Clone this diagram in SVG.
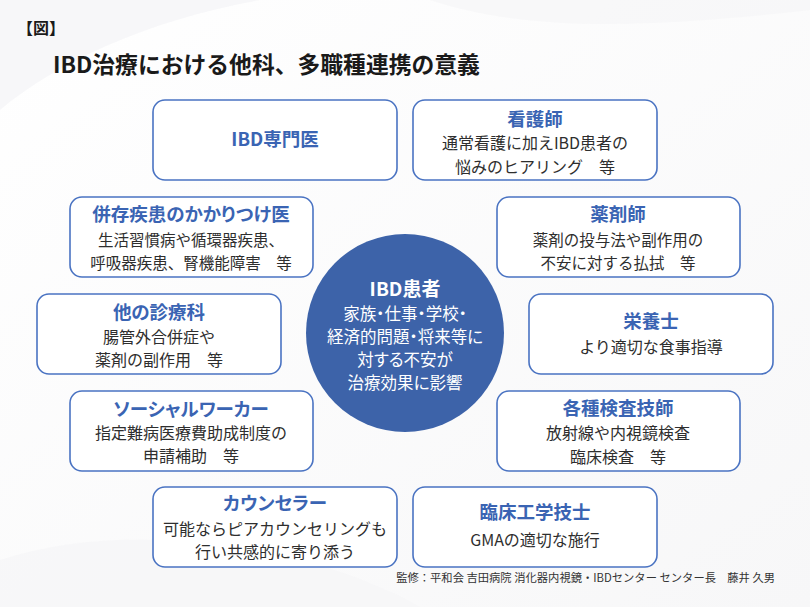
<svg xmlns="http://www.w3.org/2000/svg" width="810" height="607" viewBox="0 0 810 607">
<defs>
<style>
text{font-family:"Noto Sans CJK JP","Noto Sans",sans-serif;text-anchor:middle}
.box{fill:#ffffff;stroke:#4a73c2;stroke-width:1.6}
.ttl{font-size:18.5px;font-weight:bold;fill:#3a64b3;font-feature-settings:"palt"}
.body{font-size:16px;fill:#2e2e2e}
.tight{font-size:15.5px}
.ctr{fill:#ffffff;font-feature-settings:"palt"}
</style>
<linearGradient id="bg" x1="0" y1="0" x2="1" y2="1">
<stop offset="0" stop-color="#ffffff"/>
<stop offset="1" stop-color="#f7f7f8"/>
</linearGradient>
</defs>
<rect width="810" height="607" fill="url(#bg)"/>
<path d="M0,110 C60,60 150,20 260,0 L0,0 Z" fill="#f4f4f6" opacity="0.7"/>
<path d="M430,0 C520,30 640,30 810,10 L810,0 Z" fill="#f5f5f7" opacity="0.6"/>
<path d="M0,560 C120,520 300,540 420,607 L0,607 Z" fill="#f5f5f7" opacity="0.6"/>

<text x="17" y="34" style="font-size:16px;font-weight:bold;fill:#1a1a1a;text-anchor:start">【図】</text>
<text x="53" y="73" style="font-size:22.8px;font-weight:bold;fill:#1a1a1a;text-anchor:start">IBD治療における他科、多職種連携の意義</text>

<g id="connectors"></g>

<g id="patient">
<circle cx="405" cy="333" r="99" fill="#3d63a9"/>
<text x="405" y="296" class="ctr" style="font-size:19px;font-weight:bold">IBD患者</text>
<text x="405" y="320" class="ctr" style="font-size:16.5px">家族・仕事・学校・</text>
<text x="405" y="343" class="ctr" style="font-size:16.5px">経済的問題・将来等に</text>
<text x="405" y="366" class="ctr" style="font-size:16.5px">対する不安が</text>
<text x="405" y="389" class="ctr" style="font-size:16.5px">治療効果に影響</text>
</g>

<g id="ibd-specialist">
<rect class="box" x="153" y="100" width="244" height="80" rx="12"/>
<text class="ttl" x="275" y="146">IBD専門医</text>
</g>

<g id="nurse">
<rect class="box" x="413" y="100" width="244" height="80" rx="12"/>
<text class="ttl" x="535" y="126">看護師</text>
<text class="body" x="535" y="149">通常看護に加えIBD患者の</text>
<text class="body" x="535" y="173">悩みのヒアリング　等</text>
</g>

<g id="comorbidity-doctor">
<rect class="box" x="70" y="197" width="243" height="80" rx="12"/>
<text class="ttl" x="191" y="221">併存疾患のかかりつけ医</text>
<text class="body tight" x="191" y="246">生活習慣病や循環器疾患、</text>
<text class="body tight" x="191" y="269">呼吸器疾患、腎機能障害　等</text>
</g>

<g id="pharmacist">
<rect class="box" x="497" y="197" width="243" height="80" rx="12"/>
<text class="ttl" x="618" y="221">薬剤師</text>
<text class="body tight" x="618" y="246">薬剤の投与法や副作用の</text>
<text class="body tight" x="618" y="269">不安に対する払拭　等</text>
</g>

<g id="other-departments">
<rect class="box" x="37" y="294" width="244" height="80" rx="12"/>
<text class="ttl" x="159" y="319">他の診療科</text>
<text class="body" x="159" y="343">腸管外合併症や</text>
<text class="body" x="159" y="366">薬剤の副作用　等</text>
</g>

<g id="dietitian">
<rect class="box" x="529" y="294" width="244" height="80" rx="12"/>
<text class="ttl" x="651" y="328">栄養士</text>
<text class="body" x="651" y="353">より適切な食事指導</text>
</g>

<g id="social-worker">
<rect class="box" x="70" y="391" width="243" height="80" rx="12"/>
<text class="ttl" x="191" y="416">ソーシャルワーカー</text>
<text class="body" x="191" y="439">指定難病医療費助成制度の</text>
<text class="body" x="191" y="462">申請補助　等</text>
</g>

<g id="lab-technicians">
<rect class="box" x="497" y="391" width="243" height="80" rx="12"/>
<text class="ttl" x="618" y="415">各種検査技師</text>
<text class="body" x="618" y="439">放射線や内視鏡検査</text>
<text class="body" x="618" y="463">臨床検査　等</text>
</g>

<g id="counselor">
<rect class="box" x="153" y="487" width="244" height="80" rx="12"/>
<text class="ttl" x="275" y="510">カウンセラー</text>
<text class="body" x="275" y="535">可能ならピアカウンセリングも</text>
<text class="body" x="275" y="558">行い共感的に寄り添う</text>
</g>

<g id="clinical-engineer">
<rect class="box" x="413" y="487" width="244" height="80" rx="12"/>
<text class="ttl" x="535" y="519">臨床工学技士</text>
<text class="body" x="535" y="546">GMAの適切な施行</text>
</g>

<text x="775" y="582" style="font-size:11.3px;fill:#333333;text-anchor:end">監修：平和会 吉田病院 消化器内視鏡・IBDセンター センター長　藤井 久男</text>
</svg>
